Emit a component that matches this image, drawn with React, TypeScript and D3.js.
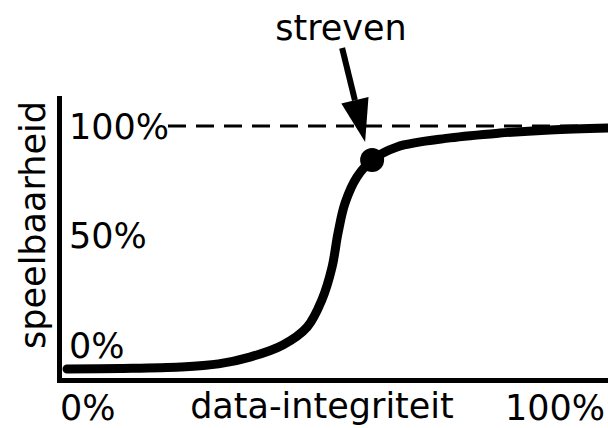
import React from "react";
import * as d3 from "d3";

// data (fractions of the axis ranges)
const curveX = [0, 0.1, 0.21, 0.28, 0.338, 0.399, 0.444, 0.471, 0.49, 0.501, 0.514, 0.536, 0.564, 0.61, 0.708, 0.8, 0.893, 1.0];
const curveY = [0, 0.002, 0.008, 0.021, 0.049, 0.099, 0.173, 0.284, 0.42, 0.56, 0.683, 0.79, 0.86, 0.914, 0.951, 0.971, 0.984, 0.992];
const targetX = 0.564;
const targetY = 0.86;
const yTickValues = [0, 0.5, 1];
const yTickLabels = ["0%", "50%", "100%"];
const xTickLabels = ["0%", "100%"];
const xTitle = "data-integriteit";
const yTitle = "speelbaarheid";
const annotation = "streven";

const W = 608;
const H = 428;
const FONT = "DejaVu Sans, sans-serif";
const FS = 35;

export default function App() {
  const x = d3.scaleLinear().domain([0, 1]).range([67, 608]);
  const y = d3.scaleLinear().domain([0, 1]).range([369, 126]);
  const labelY = d3.scaleLinear().domain([0, 1]).range([345, 126.5]);

  const pts: [number, number][] = curveX.map((v, i) => [v, curveY[i]]);
  const line = d3
    .line<[number, number]>()
    .x((d) => x(d[0]))
    .y((d) => y(d[1]))
    .curve(d3.curveCatmullRom.alpha(0.5));

  const cx = x(targetX);
  const cy = y(targetY);
  // arrow
  const tip: [number, number] = [cx - 7, cy - 18];
  const start: [number, number] = [cx - 30, 48];
  const dx = tip[0] - start[0];
  const dy = tip[1] - start[1];
  const len = Math.hypot(dx, dy);
  const ux = dx / len;
  const uy = dy / len;
  const headLen = 43;
  const headHalf = 14;
  const bx = tip[0] - ux * headLen;
  const by = tip[1] - uy * headLen;
  const px = -uy;
  const py = ux;
  const head = `M${tip[0]},${tip[1]} L${bx + px * headHalf},${by + py * headHalf} L${bx - px * headHalf},${by - py * headHalf} Z`;

  return (
    <svg width={W} height={H} style={{ position: "absolute", left: 0, top: 0, background: "#fff" }} fontFamily={FONT}>
      <rect width={W} height={H} fill="#fff" />
      {/* axes */}
      <line x1={59.5} y1={96} x2={59.5} y2={383} stroke="#000" strokeWidth={5} />
      <line x1={57} y1={380.5} x2={W} y2={380.5} stroke="#000" strokeWidth={5} />
      {/* dashed target line */}
      <line x1={168} y1={y(1)} x2={W} y2={y(1)} stroke="#000" strokeWidth={3} strokeDasharray="18,10" />
      {/* y tick labels */}
      {yTickValues.map((v, i) => (
        <text key={i} x={69} y={labelY(v)} dy="0.36em" fontSize={FS} fill="#000">
          {yTickLabels[i]}
        </text>
      ))}
      {/* x tick labels */}
      <text x={x(0) - 7} y={420} fontSize={FS} fill="#000">
        {xTickLabels[0]}
      </text>
      <text x={605} y={420} fontSize={FS} fill="#000" textAnchor="end">
        {xTickLabels[1]}
      </text>
      <text x={322} y={418} fontSize={FS} fill="#000" textAnchor="middle">
        {xTitle}
      </text>
      <text transform="translate(45,225) rotate(-90)" fontSize={FS} fill="#000" textAnchor="middle">
        {yTitle}
      </text>
      {/* curve */}
      <path d={line(pts) || ""} fill="none" stroke="#000" strokeWidth={9} strokeLinecap="round" />
      <circle cx={cx} cy={cy} r={12} fill="#000" />
      {/* annotation */}
      <text x={341} y={40} fontSize={FS} fill="#000" textAnchor="middle">
        {annotation}
      </text>
      <line x1={start[0]} y1={start[1]} x2={bx} y2={by} stroke="#000" strokeWidth={6} />
      <path d={head} fill="#000" />
    </svg>
  );
}
